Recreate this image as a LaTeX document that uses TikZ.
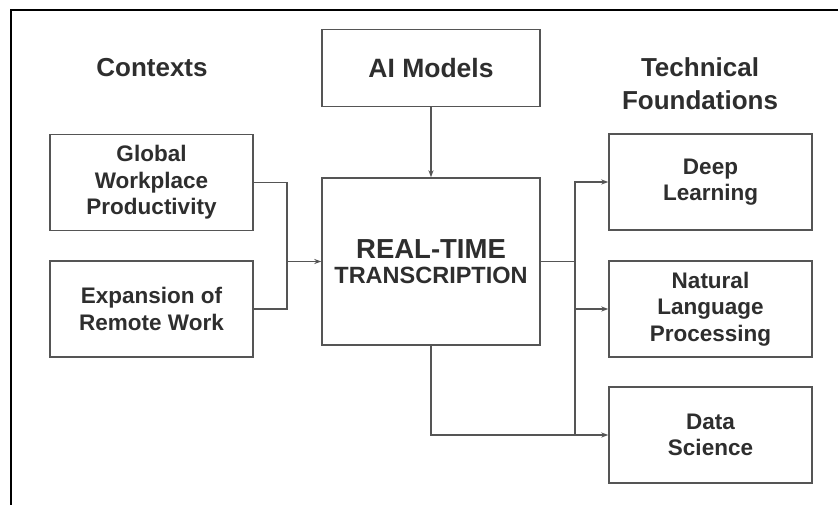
\documentclass[tikz,border=0pt]{standalone}
\usepackage{fontspec}
\setmainfont{Liberation Sans}
\usetikzlibrary{arrows.meta}
\definecolor{ink}{HTML}{2E2E2E}
\definecolor{edge}{HTML}{555555}
\tikzset{
  box/.style={draw=edge, line width=1.4pt, minimum width=203pt, minimum height=96pt,
    align=center, text=ink, font=\bfseries\fontsize{22.5}{26.5}\selectfont, inner sep=0pt},
  heading/.style={align=center, text=ink, font=\bfseries\fontsize{26}{33}\selectfont},
  link/.style={draw=edge, line width=1.2pt},
  arr/.style={link, -{Stealth[length=7pt,width=5pt]}}
}
\begin{document}
\begin{tikzpicture}[x=1pt,y=-1pt]
  \clip (0,0) rectangle (838,504);
  \fill[white] (0,0) rectangle (838,504);
  % outer frame, running off the right and bottom edges
  \draw[black, line width=2pt] (11,520) -- (11,10) -- (850,10);

  % column headings
  \node[heading] (hctx) at (152,68) {Contexts};
  \node[heading] (htech) at (700,84) {Technical\\Foundations};

  % boxes
  \node[box, minimum width=218pt, minimum height=77pt,
        font=\bfseries\fontsize{26.5}{30}\selectfont] (ai) at (431,68) {AI Models};
  \node[box, minimum width=218pt, minimum height=167pt] (rt) at (431,261.5)
    {{\fontsize{27.5}{32}\selectfont REAL-TIME}\\[-1pt]{\fontsize{23.5}{26}\selectfont TRANSCRIPTION}};
  \node[box] (global) at (151.5,182.5) {Global\\Workplace\\Productivity};
  \node[box] (remote) at (151.5,309) {Expansion of\\Remote Work};
  \node[box] (deep) at (710.5,182) {Deep\\Learning};
  \node[box] (nlp) at (710.5,309) {Natural\\Language\\Processing};
  \node[box] (data) at (710.5,435) {Data\\Science};

  % junction points
  \coordinate (jl) at (287,261.5);
  \coordinate (jr) at (575,261.5);

  % contexts feed into the centre box
  \draw[link] (global.east) -| (jl) |- (remote.east);
  \draw[arr] (jl) -- (rt.west);

  % AI models feed down
  \draw[arr] (ai.south) -- (rt.north);

  % centre box fans out to the foundations
  \draw[link] (rt.east) -- (jr);
  \draw[arr] (jr) |- (deep.west);
  \draw[arr] (jr) |- (nlp.west);
  \draw[arr] (jr) |- (data.west);
  \draw[link] (rt.south) |- (jr |- data.west);
\end{tikzpicture}
\end{document}
